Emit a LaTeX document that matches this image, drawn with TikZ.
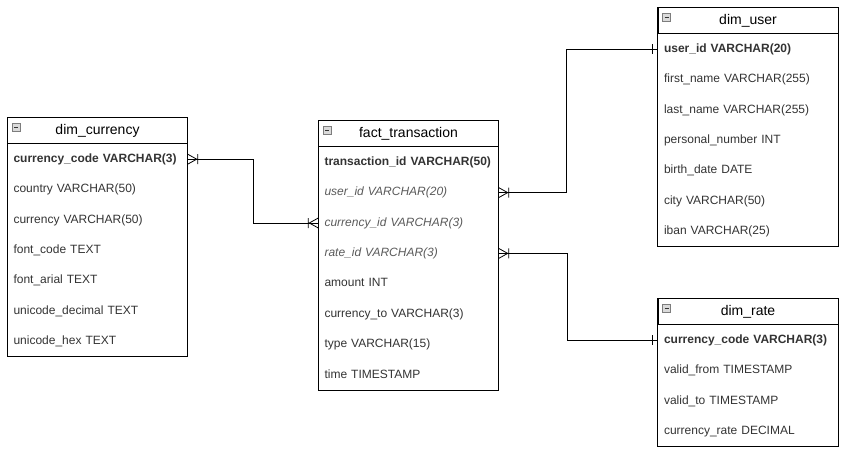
\documentclass[tikz,border=0pt]{standalone}
\usepackage{fontspec}
\setmainfont{Liberation Sans}
\usetikzlibrary{positioning, calc}
\definecolor{rowtext}{RGB}{51, 51, 51}
\definecolor{fktext}{RGB}{90, 90, 90}
\definecolor{iconfill}{RGB}{218, 218, 218}
\definecolor{icondraw}{RGB}{125, 125, 125}
\newcommand{\fkfield}[1]{\textcolor{fktext}{\itshape #1}}

\tikzset{
  tblhead/.style={draw, line width=1pt, minimum width=180pt, minimum height=26pt,
                  inner sep=0pt, font=\fontsize{14}{16}\selectfont},
  tblrow/.style={minimum height=30pt, inner sep=0pt, inner xsep=6pt, text width=168pt,
                 text height=9pt, text depth=3pt,
                 align=left, text=rowtext, font=\fontsize{12}{14}\selectfont},
  frame/.style={draw, line width=1pt},
  conn/.style={line width=1pt},
  crowmany/.pic={\draw[line width=0.8pt] (0,-5) -- (9,0) -- (0,5) (10,-5) -- (10,5);},
  crowone/.pic={\draw[line width=0.8pt] (5,-5) -- (5,5);}
}

\begin{document}
\begin{tikzpicture}[x=1pt, y=-1pt]
  \useasboundingbox (0,0) rectangle (845,453);

  % dim_currency
  \node[tblhead] (cur-0) at (97.5,130.5) {dim\_currency};
  \foreach \txt [count=\i, remember=\i as \j (initially 0)] in {\textbf{currency\_code VARCHAR(3)},
      country VARCHAR(50), currency VARCHAR(50), font\_code TEXT, font\_arial TEXT,
      unicode\_decimal TEXT, unicode\_hex TEXT} {
    \node[tblrow, below=0pt of cur-\j] (cur-\i) {\txt};
  }
  \draw[frame] (cur-0.north west) rectangle (cur-7.south east);
  \draw[fill=iconfill, draw=icondraw] ($(cur-0.north west)+(5,6)$) rectangle ++(8,8);
  \draw[line width=1pt, black!80] ($(cur-0.north west)+(7,10)$) -- ++(4,0);

  % fact_transaction
  \node[tblhead] (fact-0) at (408.5,133.5) {fact\_transaction};
  \foreach \txt [count=\i, remember=\i as \j (initially 0)] in {\textbf{transaction\_id VARCHAR(50)},
      \fkfield{user\_id VARCHAR(20)}, \fkfield{currency\_id VARCHAR(3)}, \fkfield{rate\_id VARCHAR(3)},
      amount INT, currency\_to VARCHAR(3), type VARCHAR(15), time TIMESTAMP} {
    \node[tblrow, below=0pt of fact-\j] (fact-\i) {\txt};
  }
  \draw[frame] (fact-0.north west) rectangle (fact-8.south east);
  \draw[fill=iconfill, draw=icondraw] ($(fact-0.north west)+(5,6)$) rectangle ++(8,8);
  \draw[line width=1pt, black!80] ($(fact-0.north west)+(7,10)$) -- ++(4,0);

  % dim_user
  \node[tblhead] (usr-0) at (748,20.5) {dim\_user};
  \foreach \txt [count=\i, remember=\i as \j (initially 0)] in {\textbf{user\_id VARCHAR(20)},
      first\_name VARCHAR(255), last\_name VARCHAR(255), personal\_number INT,
      birth\_date DATE, city VARCHAR(50), iban VARCHAR(25)} {
    \node[tblrow, below=0pt of usr-\j] (usr-\i) {\txt};
  }
  \draw[frame] (usr-0.north west) rectangle (usr-7.south east);
  \draw[fill=iconfill, draw=icondraw] ($(usr-0.north west)+(5,6)$) rectangle ++(8,8);
  \draw[line width=1pt, black!80] ($(usr-0.north west)+(7,10)$) -- ++(4,0);

  % dim_rate
  \node[tblhead] (rate-0) at (748,311.5) {dim\_rate};
  \foreach \txt [count=\i, remember=\i as \j (initially 0)] in {\textbf{currency\_code VARCHAR(3)},
      valid\_from TIMESTAMP, valid\_to TIMESTAMP, currency\_rate DECIMAL} {
    \node[tblrow, below=0pt of rate-\j] (rate-\i) {\txt};
  }
  \draw[frame] (rate-0.north west) rectangle (rate-4.south east);
  \draw[fill=iconfill, draw=icondraw] ($(rate-0.north west)+(5,6)$) rectangle ++(8,8);
  \draw[line width=1pt, black!80] ($(rate-0.north west)+(7,10)$) -- ++(4,0);

  % relations
  \draw[conn] (cur-1.east) -- ++(66,0) |- (fact-3.west);
  \draw[conn] (fact-2.east) -- ++(68,0) |- (usr-1.west);
  \draw[conn] (fact-4.east) -- ++(69,0) |- (rate-1.west);
  \pic at (cur-1.east) {crowmany};
  \pic[xscale=-1] at (fact-3.west) {crowmany};
  \pic at (fact-2.east) {crowmany};
  \pic at (fact-4.east) {crowmany};
  \pic[xscale=-1] at (usr-1.west) {crowone};
  \pic[xscale=-1] at (rate-1.west) {crowone};

\end{tikzpicture}
\end{document}
